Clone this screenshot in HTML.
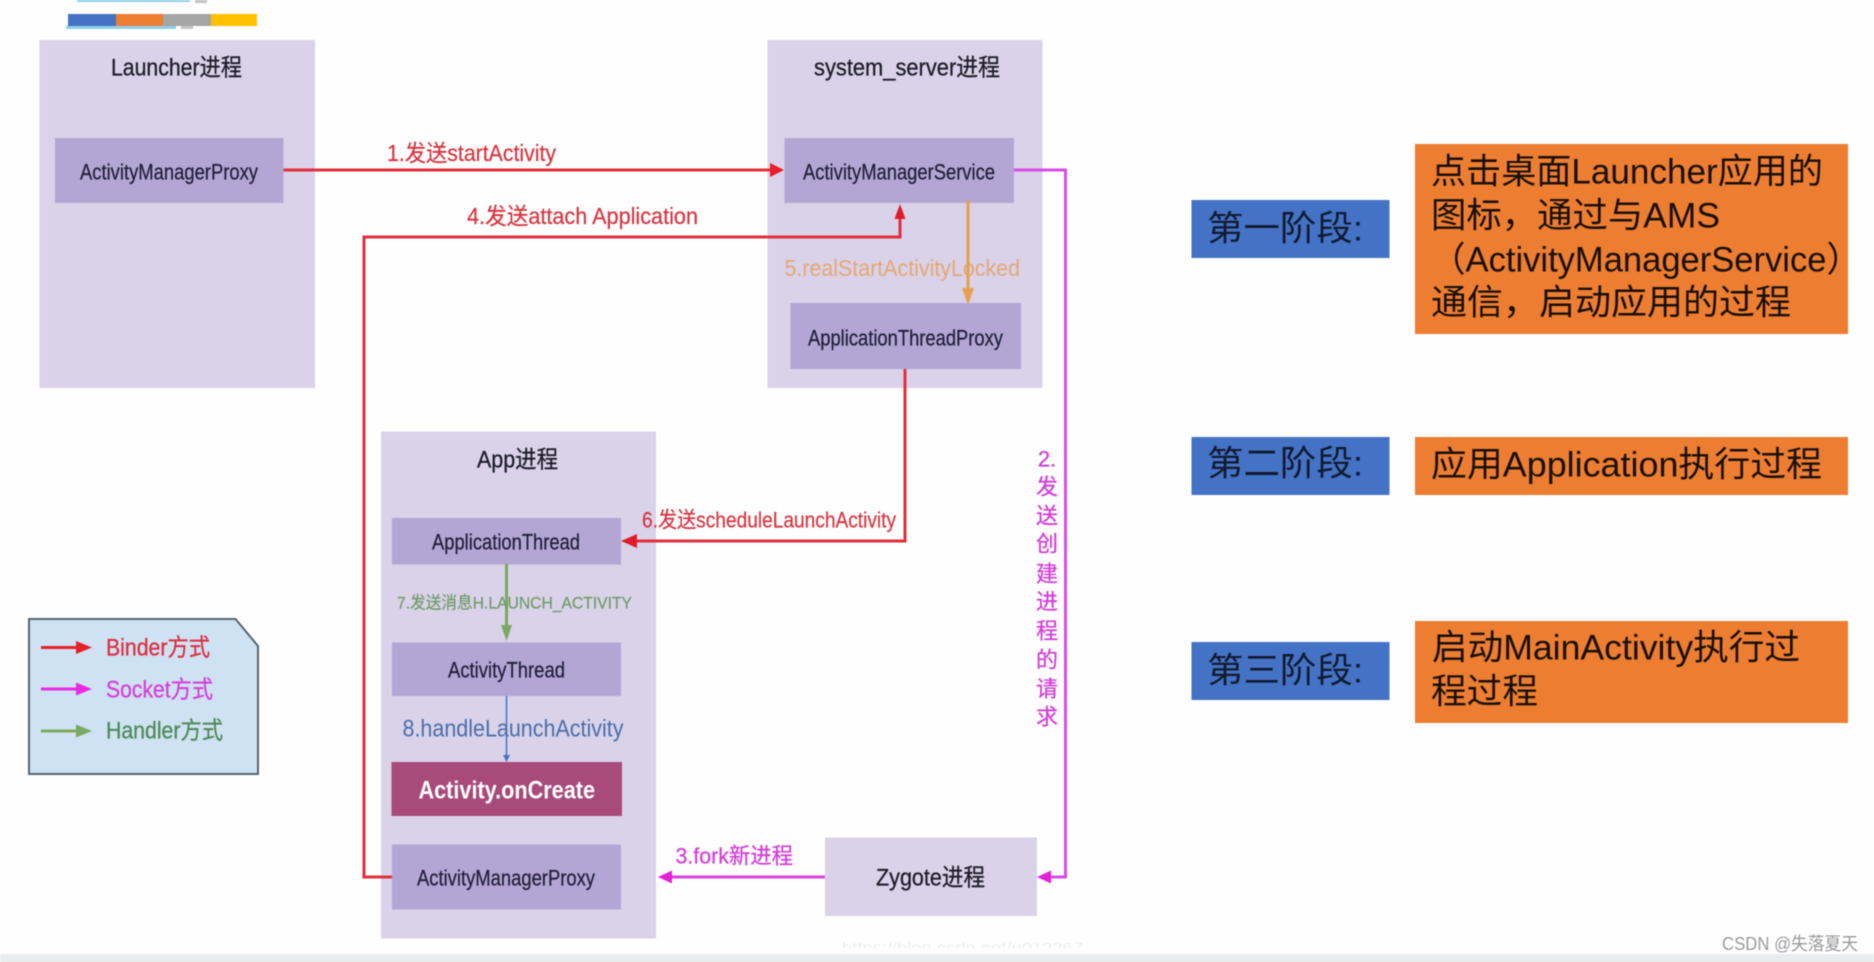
<!DOCTYPE html>
<html lang="zh">
<head>
<meta charset="utf-8">
<title>Android App Launch Flow</title>
<style>
html,body{margin:0;padding:0;background:#fff;width:1874px;height:962px;overflow:hidden}
svg{display:block;filter:blur(.5px)}
text{font-family:"Liberation Sans","Noto Sans CJK SC",sans-serif;dominant-baseline:central}
.t{fill:#1d1d28;font-size:24px;stroke:#1d1d28;stroke-width:.3px}
.n{fill:#20203a;font-size:22px;stroke:#20203a;stroke-width:.25px}
.r{fill:#d8343f;font-size:23px;stroke:#d8343f;stroke-width:.2px}
.m{fill:#d23fd8;font-size:22px;stroke:#d23fd8;stroke-width:.3px}
.s{fill:#111a30;font-size:35px}
.g{fill:#181008;font-size:35px}
</style>
</head>
<body>
<svg xmlns="http://www.w3.org/2000/svg" width="1874" height="962" viewBox="0 0 1874 962">
<defs><clipPath id="wm"><rect x="800" y="930" width="320" height="18"/></clipPath></defs>
<rect width="1874" height="962" fill="#fefefe"/>

<!-- top decoration -->
<rect x="77" y="0" width="113" height="2" fill="#8fd0ee"/>
<rect x="195" y="0" width="12" height="3" fill="#c4c4c4"/>
<rect x="68" y="14" width="48" height="12" fill="#4472c4"/>
<rect x="116" y="14" width="47" height="12" fill="#ed7d31"/>
<rect x="163" y="14" width="48" height="12" fill="#a5a5a5"/>
<rect x="211" y="14" width="46" height="12" fill="#ffc000"/>
<rect x="66" y="26" width="110" height="3" fill="#8fd0ee"/>
<rect x="181" y="26" width="12" height="3" fill="#c4c4c4"/>

<!-- process containers -->
<rect x="39.5" y="40" width="275.5" height="348" fill="#d9d2e9"/>
<rect x="767.5" y="40" width="275" height="348" fill="#d9d2e9"/>
<rect x="381" y="431.5" width="275" height="507" fill="#d9d2e9"/>
<rect x="825" y="837.5" width="212" height="78.5" fill="#d9d2e9"/>

<!-- inner boxes -->
<rect x="55" y="138" width="228.5" height="65" fill="#b3a6d5"/>
<rect x="784.5" y="138" width="229.5" height="65" fill="#b3a6d5"/>
<rect x="790.5" y="303" width="230.5" height="66" fill="#b3a6d5"/>
<rect x="392" y="518" width="229" height="46.5" fill="#b3a6d5"/>
<rect x="392" y="642.5" width="229" height="53.5" fill="#b3a6d5"/>
<rect x="391.5" y="762" width="230.5" height="54" fill="#a84a7a"/>
<rect x="392" y="844.5" width="229" height="65" fill="#b3a6d5"/>

<!-- titles and node text -->
<text class="t" x="111" y="68" textLength="131" lengthAdjust="spacingAndGlyphs">Launcher进程</text>
<text class="t" x="814" y="68" textLength="186" lengthAdjust="spacingAndGlyphs">system_server进程</text>
<text class="t" x="477" y="460" textLength="81" lengthAdjust="spacingAndGlyphs">App进程</text>
<text class="t" x="876" y="878" textLength="109" lengthAdjust="spacingAndGlyphs">Zygote进程</text>
<text class="n" x="80" y="172" textLength="178" lengthAdjust="spacingAndGlyphs">ActivityManagerProxy</text>
<text class="n" x="803" y="172" textLength="192" lengthAdjust="spacingAndGlyphs">ActivityManagerService</text>
<text class="n" x="808" y="338" textLength="195" lengthAdjust="spacingAndGlyphs">ApplicationThreadProxy</text>
<text class="n" x="432" y="542" textLength="148" lengthAdjust="spacingAndGlyphs">ApplicationThread</text>
<text class="n" x="448" y="670" textLength="117" lengthAdjust="spacingAndGlyphs">ActivityThread</text>
<text x="418.5" y="790.5" textLength="176.5" lengthAdjust="spacingAndGlyphs" fill="#fff" font-size="25" font-weight="700">Activity.onCreate</text>
<text class="n" x="417" y="878" textLength="178" lengthAdjust="spacingAndGlyphs">ActivityManagerProxy</text>

<!-- 1 -->
<polyline points="283.5,170 772,170" fill="none" stroke="#e2303c" stroke-width="3"/>
<polygon points="784,170 770,163 770,177" fill="#ea1c28"/>
<text class="r" x="387" y="153" textLength="169" lengthAdjust="spacingAndGlyphs">1.发送startActivity</text>

<!-- 4 -->
<polyline points="392,877 364,877 364,237 900,237 900,216" fill="none" stroke="#e2303c" stroke-width="3"/>
<polygon points="900,204 894.5,219 905.5,219" fill="#e01c28"/>
<text class="r" x="467" y="216" textLength="231" lengthAdjust="spacingAndGlyphs">4.发送attach Application</text>

<!-- 5 -->
<text x="784.5" y="268" textLength="235.5" lengthAdjust="spacingAndGlyphs" fill="#e5a873" font-size="23">5.realStartActivityLocked</text>
<line x1="968" y1="200" x2="968" y2="292" stroke="#e8a050" stroke-width="3"/>
<polygon points="968,305 962,288 974,288" fill="#e8a050"/>

<!-- 2 -->
<polyline points="1014,170 1065.5,170 1065.5,877 1050,877" fill="none" stroke="#d94be6" stroke-width="3"/>
<polygon points="1037,877 1051,870.5 1051,883.5" fill="#e41fd8"/>
<g text-anchor="middle">
<text class="m" x="1047" y="459">2.</text>
<text class="m" x="1047" y="487">发</text>
<text class="m" x="1047" y="516">送</text>
<text class="m" x="1047" y="544">创</text>
<text class="m" x="1047" y="574">建</text>
<text class="m" x="1047" y="602">进</text>
<text class="m" x="1047" y="631">程</text>
<text class="m" x="1047" y="660">的</text>
<text class="m" x="1047" y="689">请</text>
<text class="m" x="1047" y="717">求</text>
</g>

<!-- 3 -->
<line x1="825" y1="877" x2="670" y2="877" stroke="#dc3fe0" stroke-width="3"/>
<polygon points="658,877 672,870.5 672,883.5" fill="#e41fd8"/>
<text class="m" x="675.5" y="856" textLength="117.5" lengthAdjust="spacingAndGlyphs">3.fork新进程</text>

<!-- 6 -->
<polyline points="905,369 905,541 635,541" fill="none" stroke="#e2303c" stroke-width="3"/>
<polygon points="621,541 637,534 637,548" fill="#e01c28"/>
<text x="642" y="520" textLength="254" lengthAdjust="spacingAndGlyphs" fill="#d8343f" stroke="#d8343f" stroke-width=".2" font-size="22">6.发送scheduleLaunchActivity</text>

<!-- 7 -->
<line x1="506.5" y1="564" x2="506.5" y2="630" stroke="#7aa95f" stroke-width="3"/>
<polygon points="506.5,641 501,625 512,625" fill="#7aa95f"/>
<text x="397" y="603" textLength="235" lengthAdjust="spacingAndGlyphs" fill="#6f9a68" stroke="#6f9a68" stroke-width=".2" font-size="17">7.发送消息H.LAUNCH_ACTIVITY</text>

<!-- 8 -->
<line x1="506.5" y1="696" x2="506.5" y2="756" stroke="#4472c4" stroke-width="1.5"/>
<polygon points="506.5,762 503,755 510,755" fill="#4472c4"/>
<text x="402.5" y="729" textLength="221" lengthAdjust="spacingAndGlyphs" fill="#4a6ea8" font-size="24">8.handleLaunchActivity</text>

<!-- legend -->
<polygon points="29,619 235.5,619 258,646 258,774 29,774" fill="#cfe2f3" stroke="#566470" stroke-width="2"/>
<line x1="41" y1="647.5" x2="78" y2="647.5" stroke="#e82028" stroke-width="3"/>
<polygon points="92,647.5 76,641 76,654" fill="#e82028"/>
<line x1="41" y1="689" x2="78" y2="689" stroke="#ea2ae6" stroke-width="3"/>
<polygon points="92,689 76,682.5 76,695.5" fill="#ea2ae6"/>
<line x1="41" y1="731" x2="78" y2="731" stroke="#7aa95f" stroke-width="3"/>
<polygon points="92,731 76,724.5 76,737.5" fill="#7aa95f"/>
<text x="106" y="648" textLength="104" lengthAdjust="spacingAndGlyphs" fill="#dd3040" stroke="#dd3040" stroke-width=".3" font-size="24">Binder方式</text>
<text x="106" y="690" textLength="107" lengthAdjust="spacingAndGlyphs" fill="#d53fd8" stroke="#d53fd8" stroke-width=".3" font-size="24">Socket方式</text>
<text x="106" y="731" textLength="117" lengthAdjust="spacingAndGlyphs" fill="#4f8a58" stroke="#4f8a58" stroke-width=".3" font-size="24">Handler方式</text>

<!-- right column -->
<rect x="1191.5" y="200" width="198" height="58" fill="#4472c4"/>
<rect x="1191.5" y="437" width="198" height="58" fill="#4472c4"/>
<rect x="1191.5" y="642" width="198" height="58" fill="#4472c4"/>
<text class="s" x="1207" y="229" textLength="156" lengthAdjust="spacingAndGlyphs" font-size="33">第一阶段:</text>
<text class="s" x="1207" y="464" textLength="156" lengthAdjust="spacingAndGlyphs" font-size="33">第二阶段:</text>
<text class="s" x="1207" y="671" textLength="156" lengthAdjust="spacingAndGlyphs" font-size="33">第三阶段:</text>

<rect x="1415" y="144" width="433" height="190" fill="#ed7d31"/>
<rect x="1415" y="437" width="433" height="58" fill="#ed7d31"/>
<rect x="1415" y="621" width="433" height="102" fill="#ed7d31"/>
<text class="g" x="1431" y="172" textLength="392" lengthAdjust="spacingAndGlyphs">点击桌面Launcher应用的</text>
<text class="g" x="1431" y="216" textLength="289" lengthAdjust="spacingAndGlyphs">图标，通过与AMS</text>
<text class="g" x="1431" y="260" textLength="430" lengthAdjust="spacingAndGlyphs">（ActivityManagerService）</text>
<text class="g" x="1431" y="303" textLength="360" lengthAdjust="spacingAndGlyphs">通信，启动应用的过程</text>
<text class="g" x="1431" y="465" textLength="391" lengthAdjust="spacingAndGlyphs">应用Application执行过程</text>
<text class="g" x="1432" y="648" textLength="368" lengthAdjust="spacingAndGlyphs">启动MainActivity执行过</text>
<text class="g" x="1431" y="692" textLength="107" lengthAdjust="spacingAndGlyphs">程过程</text>

<!-- watermarks and bottom strip -->
<text x="842" y="948" textLength="241" lengthAdjust="spacingAndGlyphs" fill="#eeeeee" font-size="15" clip-path="url(#wm)">https://blog.csdn.net/u012267</text>
<rect x="0" y="954" width="1874" height="8" fill="#e9ecec"/>
<text x="1722" y="944" textLength="136" lengthAdjust="spacingAndGlyphs" fill="#9a9a9a" font-size="18">CSDN @失落夏天</text>
</svg>
</body>
</html>
